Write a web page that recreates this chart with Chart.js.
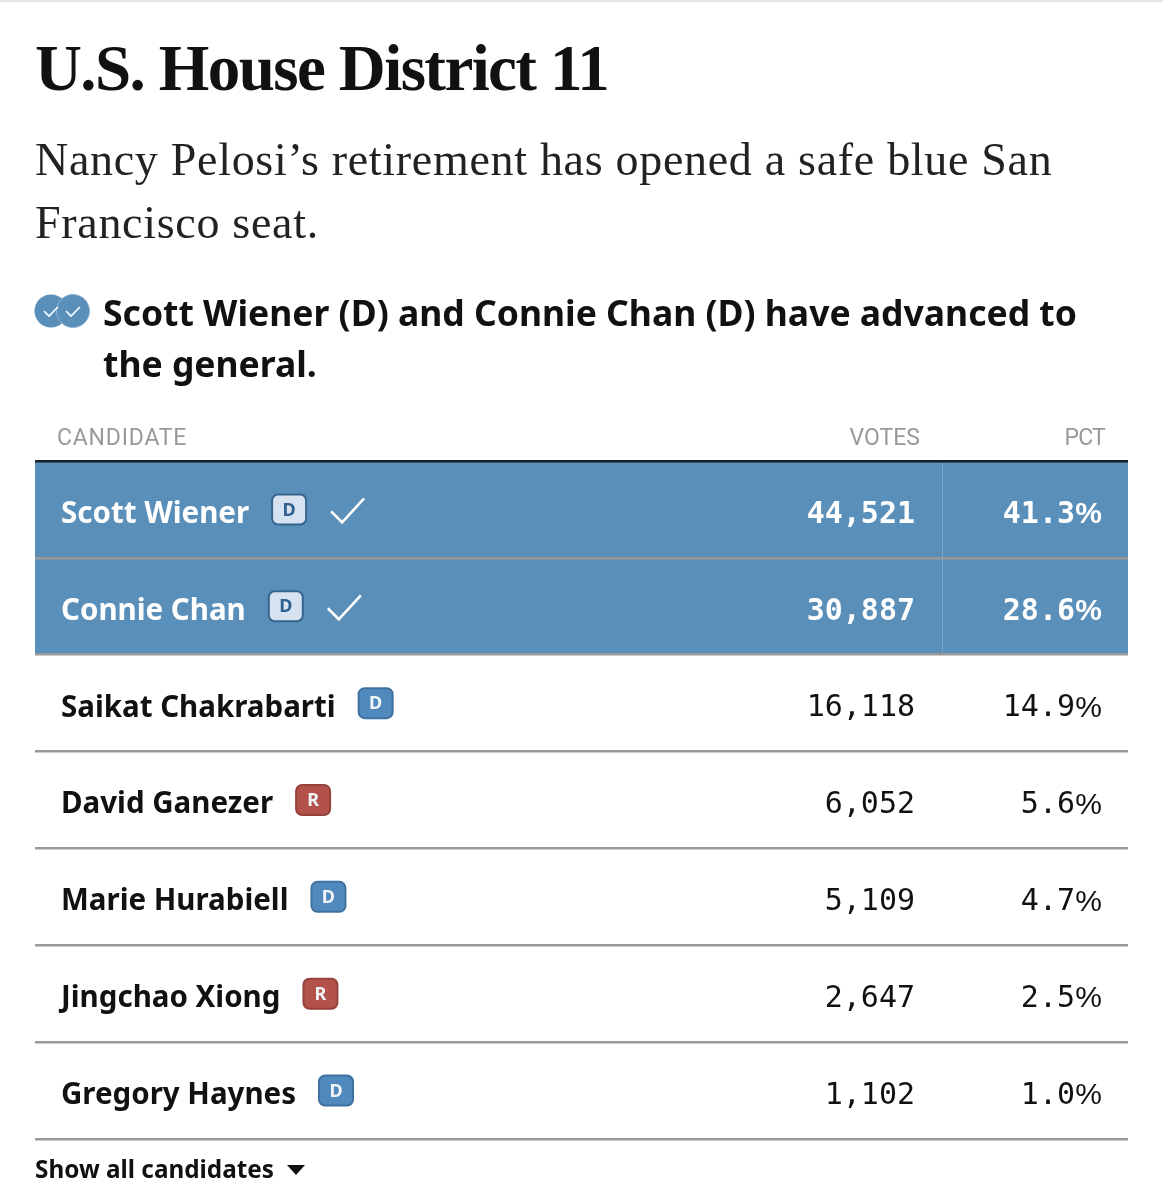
<!DOCTYPE html>
<html>
<head>
<meta charset="utf-8">
<title>U.S. House District 11</title>
<script src="https://cdn.jsdelivr.net/npm/chart.js@4"></script>
<style>
  html, body { margin: 0; padding: 0; background: #fff; }
  #page { position: relative; width: 1163px; height: 1200px; overflow: hidden; border-top: 2px solid #e6e6e6; box-sizing: border-box; }
  #wrap { position: absolute; left: 0; top: -2px; width: 1163px; height: 1200px; }
  .txt { position: absolute; white-space: nowrap; }
  #title { left: 35px; top: 26px; font: bold 65px/80px "Liberation Serif", serif; color: #111; letter-spacing: -1.6px; }
  .intro { left: 35px; font: 46px/60px "Liberation Serif", serif; color: #222; letter-spacing: 0.7px; }
  .head { left: 103px; font: bold 35.5px/50px "Noto Sans", sans-serif; color: #111; }
  .col { top: 421px; font: 23px/30px "Roboto", sans-serif; color: #999; }
  #more { left: 35px; top: 1150px; font: bold 24.3px/34px "Noto Sans", sans-serif; color: #111; }
</style>
</head>
<body>
<div id="page">
  <div id="wrap"><canvas id="results"></canvas></div>
  <div class="txt" id="title">U.S. House District 11</div>
  <div class="txt intro" style="top:128px">Nancy Pelosi’s retirement has opened a safe blue San</div>
  <div class="txt intro" style="top:191px">Francisco seat.</div>
  <svg style="position:absolute;left:34px;top:291px" width="58" height="38">
    <circle cx="17" cy="18" r="16.5" fill="#5a8fba"/>
    <circle cx="39" cy="18" r="16.5" fill="#5a8fba" stroke="#8fb2cf" stroke-width="1"/>
    <path d="M10 18l5 5 9-9M32 18l5 5 9-9" fill="none" stroke="#fff" stroke-width="1.6"/>
  </svg>
  <div class="txt head" style="top:285px">Scott Wiener (D) and Connie Chan (D) have advanced to</div>
  <div class="txt head" style="top:336px">the general.</div>
  <div class="txt col" style="left:57px;letter-spacing:0.8px">CANDIDATE</div>
  <div class="txt col" style="right:243px">VOTES</div>
  <div class="txt col" style="right:58px;letter-spacing:-0.8px">PCT</div>
  <div class="txt" id="more">Show all candidates</div>
  <svg style="position:absolute;left:287px;top:1162px" width="20" height="14"><path d="M0 1h18l-9 10z" fill="#111"/></svg>
</div>
<script>
'use strict';

const candidates = ['Scott Wiener', 'Connie Chan', 'Saikat Chakrabarti', 'David Ganezer', 'Marie Hurabiell', 'Jingchao Xiong', 'Gregory Haynes'];
const parties = ['D', 'D', 'D', 'R', 'D', 'R', 'D'];
const votes = ['44,521', '30,887', '16,118', '6,052', '5,109', '2,647', '1,102'];
const pcts = ['41.3', '28.6', '14.9', '5.6', '4.7', '2.5', '1.0'];
// 1 = advanced to the general, the whole row gets filled
const advanced = [1, 1, null, null, null, null, null];

const BLUE = '#5a8fba';

function roundBox(ctx, x, y, w, h, r) {
  ctx.beginPath();
  ctx.roundRect(x, y, w, h, r);
  ctx.fill();
  ctx.stroke();
}

const rowText = {
  id: 'rowText',
  afterDraw(chart) {
    const ctx = chart.ctx;
    const yScale = chart.scales.y;
    ctx.save();

    // divider between votes and pct in the filled rows
    ctx.strokeStyle = '#7aa5c8';
    ctx.lineWidth = 1;
    ctx.beginPath();
    ctx.moveTo(942.5, chart.chartArea.top + 2);
    ctx.lineTo(942.5, yScale.getPixelForValue(1) + 47);
    ctx.stroke();

    candidates.forEach(function(name, i) {
      const y = yScale.getPixelForValue(i);
      const on = advanced[i] === 1;
      const weight = on ? 'bold ' : '';

      ctx.fillStyle = on ? '#fff' : '#111';
      ctx.textAlign = 'right';
      ctx.textBaseline = 'middle';
      ctx.font = weight + '30px "DejaVu Sans Mono", monospace';
      ctx.fillText(votes[i], 915, y + 5.5);
      ctx.fillText(pcts[i], 1075, y + 5.5);
      // the mono % is too narrow, use a proportional one
      ctx.font = weight + '30px "Liberation Sans", sans-serif';
      ctx.fillText('%', 1102, y + 5.5);

      // party badge sits right after the name
      ctx.font = 'bold 29.5px "Noto Sans", sans-serif';
      const bx = 61 + ctx.measureText(name).width + 23;
      const by = y - 15;
      const isD = parties[i] === 'D';
      ctx.fillStyle = on ? '#d6e2ef' : (isD ? '#5089bd' : '#b2524b');
      ctx.strokeStyle = on ? '#35648f' : (isD ? '#3f719e' : '#96423c');
      ctx.lineWidth = 2;
      roundBox(ctx, bx, by, 34, 30, 6);
      ctx.fillStyle = on ? '#2e5f8e' : '#f2f5f8';
      ctx.textAlign = 'center';
      ctx.font = 'bold 18px "Noto Sans", sans-serif';
      ctx.fillText(parties[i], bx + 17, by + 16);

      if (on) {
        ctx.strokeStyle = '#fff';
        ctx.lineWidth = 2.6;
        ctx.beginPath();
        ctx.moveTo(bx + 59, y + 2);
        ctx.lineTo(bx + 70, y + 13);
        ctx.lineTo(bx + 92, y - 11);
        ctx.stroke();
      }
    });
    ctx.restore();
  }
};

new Chart(document.getElementById('results'), {
  type: 'bar',
  data: {
    labels: candidates,
    datasets: [{
      data: advanced,
      backgroundColor: BLUE,
      barPercentage: 1,
      categoryPercentage: 1,
      borderWidth: 0
    }]
  },
  options: {
    indexAxis: 'y',
    responsive: true,
    maintainAspectRatio: false,
    animation: false,
    layout: { padding: { left: 35, right: 35, top: 461, bottom: 61 } },
    plugins: { legend: { display: false }, tooltip: { enabled: false } },
    scales: {
      x: { display: false, min: 0, max: 1 },
      y: {
        offset: true,
        afterFit: function(axis) { axis.width = 0; },
        border: { display: false },
        grid: {
          z: 1,
          drawTicks: false,
          lineWidth: 2.5,
          color: function(c) { return c.index === 0 ? '#15202b' : '#999'; }
        },
        ticks: {
          z: 2,
          mirror: true,
          padding: 26,
          labelOffset: 5,
          autoSkip: false,
          font: { family: '"Noto Sans", sans-serif', size: 29.5, weight: 'bold' },
          color: function(c) { return advanced[c.index] === 1 ? '#fff' : '#111'; }
        }
      }
    }
  },
  plugins: [rowText]
});
</script>
</body>
</html>
